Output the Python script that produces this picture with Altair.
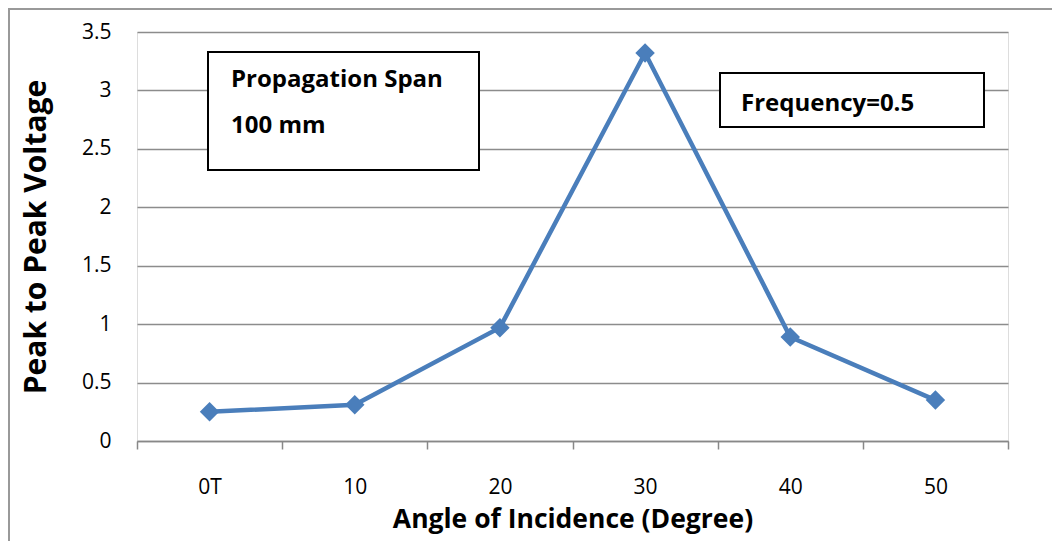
import altair as alt
import pandas as pd

angles = ["0T", "10", "20", "30", "40", "50"]
voltage = [0.25, 0.31, 0.97, 3.32, 0.89, 0.35]
y_ticks = [0, 0.5, 1, 1.5, 2, 2.5, 3, 3.5]

df = pd.DataFrame({"angle": angles, "voltage": voltage})

W, H = 871, 409
FONT = "Open Sans"
BLUE = "#4A7EBB"

x_enc = alt.X("angle:N", sort=angles, title="Angle of Incidence (Degree)",
              scale=alt.Scale(paddingInner=0, paddingOuter=0),
              axis=alt.Axis(labelAngle=0, tickBand="extent", tickSize=8, tickColor="#888888",
                            tickWidth=1.5, domainColor="#888888", domainWidth=1.5,
                            labelFontSize=21, labelFont=FONT, labelColor="#000000",
                            labelPadding=27, titleFontSize=26.5, titleFont=FONT,
                            titleFontWeight="bold", titlePadding=9, titleColor="#000000",
                            grid=False))
y_enc = alt.Y("voltage:Q", title="Peak to Peak Voltage",
              scale=alt.Scale(domain=[0, 3.5], nice=False),
              axis=alt.Axis(values=y_ticks, format="~g", domain=False, ticks=False,
                            labelFontSize=21, labelFont=FONT, labelColor="#000000",
                            labelPadding=26, gridColor="#8c8c8c", gridWidth=1.5,
                            titleFontSize=30, titleFont=FONT, titleFontWeight="bold",
                            titlePadding=30, titleColor="#000000"))

line = alt.Chart(df).mark_line(color=BLUE, strokeWidth=4.5).encode(x=x_enc, y=y_enc)
pts = alt.Chart(df).mark_point(shape="diamond", filled=True, color=BLUE, size=380,
                               opacity=1).encode(x=alt.X("angle:N", sort=angles),
                                                 y="voltage:Q")

ann = pd.DataFrame({"k": [0]})
box1 = alt.Chart(ann).mark_rect(fill="white", stroke="black", strokeWidth=2).encode(
    x=alt.value(71), x2=alt.value(342), y=alt.value(20), y2=alt.value(138))
box2 = alt.Chart(ann).mark_rect(fill="white", stroke="black", strokeWidth=2).encode(
    x=alt.value(583), x2=alt.value(847), y=alt.value(41), y2=alt.value(95))
txt_lines = pd.DataFrame({"t": ["Propagation Span", "100 mm"], "yy": [48, 94]})
t1 = alt.Chart(txt_lines).mark_text(align="left", baseline="middle", font=FONT,
                                    fontWeight="bold", fontSize=24, color="black").encode(
    x=alt.value(94), y=alt.Y("yy:Q", scale=None), text="t:N")
t2 = alt.Chart(ann).mark_text(align="left", baseline="middle", font=FONT,
                              fontWeight="bold", fontSize=24, color="black").encode(
    x=alt.value(604), y=alt.value(72), text=alt.value("Frequency=0.5"))

border_l = alt.Chart(ann).mark_rule(color="#999999", strokeWidth=2, clip=False).encode(
    x=alt.value(-128), y=alt.value(-23), y2=alt.value(H + 100))
border_t = alt.Chart(ann).mark_rule(color="#999999", strokeWidth=2, clip=False).encode(
    x=alt.value(-129), x2=alt.value(W + 44), y=alt.value(-23))

chart = alt.layer(border_l, border_t, line, pts, box1, box2, t1, t2).properties(
    width=W, height=H,
    autosize=alt.AutoSizeParams(type="none"),
    padding={"left": 129, "top": 24, "right": 45, "bottom": 100},
).configure_view(stroke=None).configure(background="white")

chart.save("out.html", embed_options={"renderer": "svg", "actions": False})
